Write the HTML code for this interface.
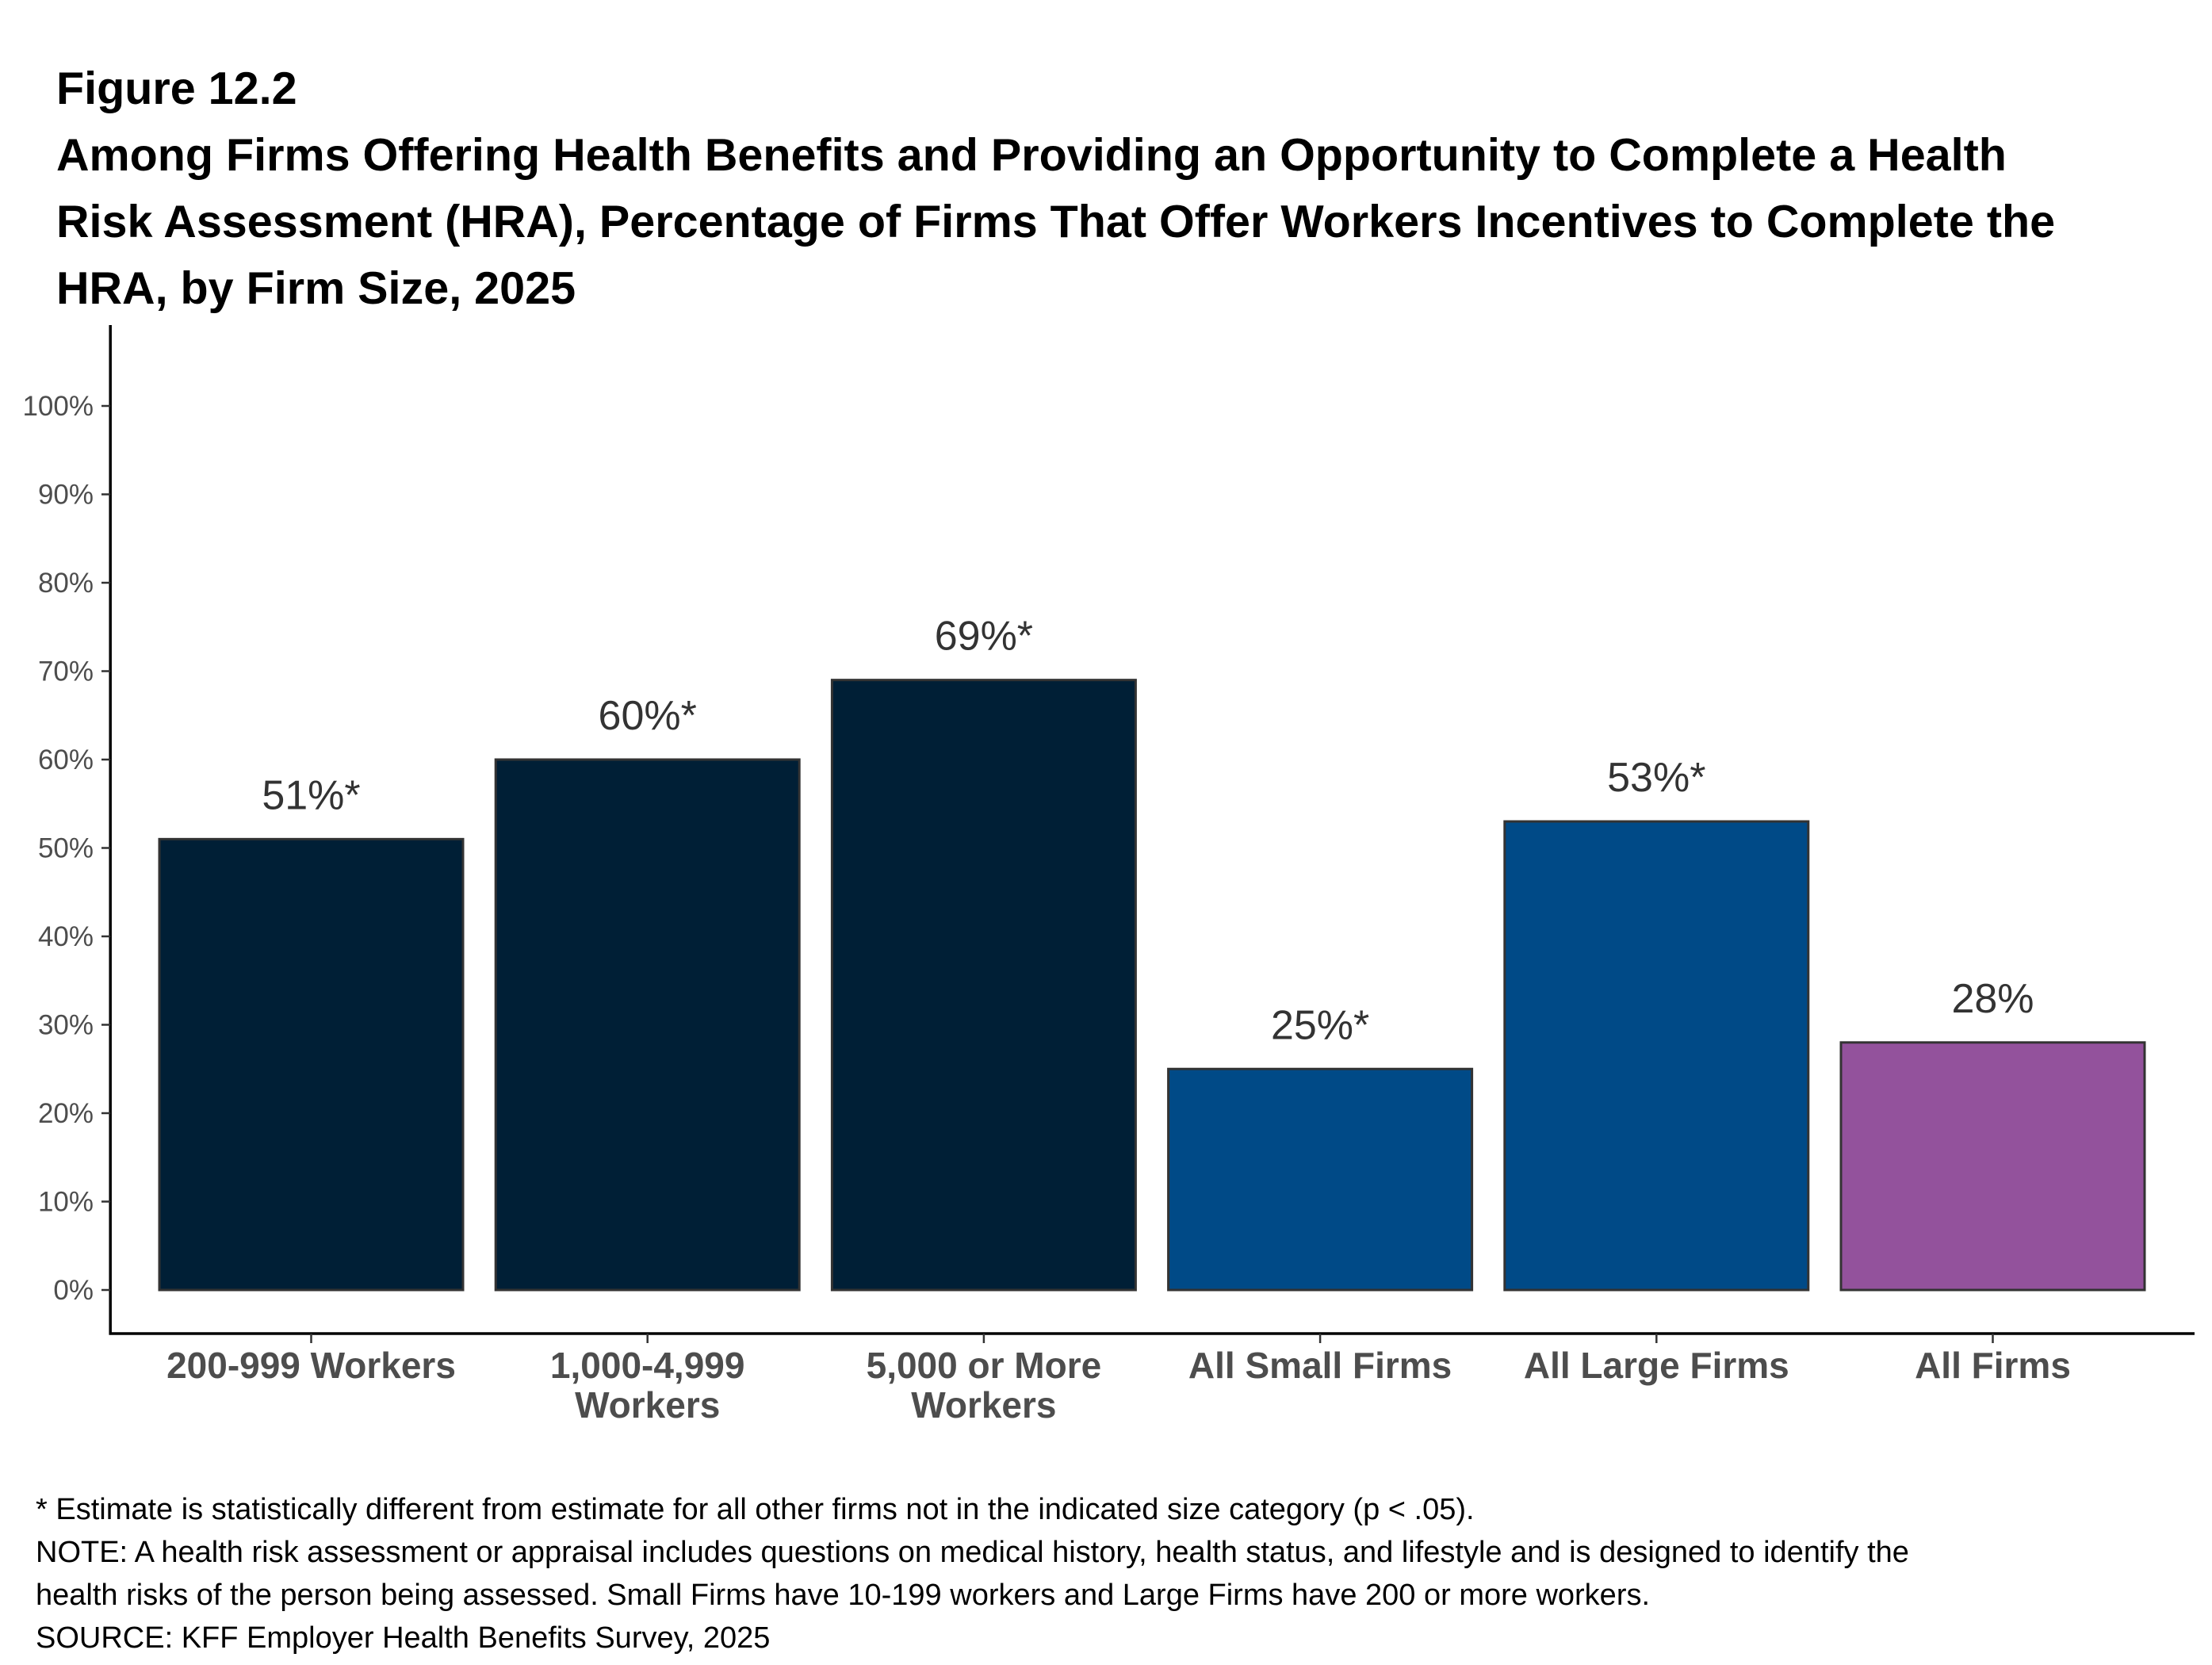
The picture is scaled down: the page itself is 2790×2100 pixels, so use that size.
<!DOCTYPE html>
<html><head><meta charset="utf-8"><style>
html,body{margin:0;padding:0;background:#fff;}
svg{display:block;font-family:"Liberation Sans",Arial,sans-serif;}
</style></head><body>
<svg id="chart" width="2790" height="2100" viewBox="0 0 2790 2100">
<g font-weight="bold" font-size="57.5" fill="#000">
<text x="71" y="131">Figure 12.2</text>
<text x="71" y="215">Among Firms Offering Health Benefits and Providing an Opportunity to Complete a Health</text>
<text x="71" y="299">Risk Assessment (HRA), Percentage of Firms That Offer Workers Incentives to Complete the</text>
<text x="71" y="383">HRA, by Firm Size, 2025</text>
</g>
<g id="plot"></g>
<g font-size="38" fill="#000">
<text x="45" y="1916">* Estimate is statistically different from estimate for all other firms not in the indicated size category (p &lt; .05).</text>
<text x="45" y="1970">NOTE: A health risk assessment or appraisal includes questions on medical history, health status, and lifestyle and is designed to identify the</text>
<text x="45" y="2024">health risks of the person being assessed. Small Firms have 10-199 workers and Large Firms have 200 or more workers.</text>
<text x="45" y="2078">SOURCE: KFF Employer Health Benefits Survey, 2025</text>
</g>
</svg>
<script>
const categories = [["200-999 Workers"],["1,000-4,999","Workers"],["5,000 or More","Workers"],["All Small Firms"],["All Large Firms"],["All Firms"]];
const values = [51,60,69,25,53,28];
const valueLabels = ["51%*","60%*","69%*","25%*","53%*","28%"];
const barColors = ["#001f36","#001f36","#001f36","#004a87","#004a87","#93529c"];
const yTicks = [0,10,20,30,40,50,60,70,80,90,100];

const NS="http://www.w3.org/2000/svg";
const g=document.getElementById('plot');
const y0=1627, pxPer=11.15;
const yScale=v=>y0-v*pxPer;
const xScale=i=>392.5+i*424.2;
const bw=383;
const axisY=1682;
function mk(t,a,txt){const e=document.createElementNS(NS,t);for(const k in a)e.setAttribute(k,a[k]);if(txt!==undefined)e.textContent=txt;g.appendChild(e);return e;}
let e=mk('line',{x1:139.2,y1:410,x2:139.2,y2:axisY+1.5,stroke:'#000','stroke-width':3.5});


e=mk('line',{x1:137.5,y1:axisY,x2:2768,y2:axisY,stroke:'#000','stroke-width':3.5});


yTicks.forEach(t=>{
  const y=yScale(t);
  let l=mk('line',{x1:128,y1:y,x2:139.2,y2:y,stroke:'#333','stroke-width':2.5});
  
  
  let tx=mk('text',{x:118,y:y+12,'text-anchor':'end','font-size':35,fill:'#4d4d4d'},t+'%');
  
  
});
values.forEach((v,i)=>{
  const cx=xScale(i);
  let r=mk('rect',{x:cx-bw/2,y:yScale(v),width:bw,height:yScale(0)-yScale(v),fill:barColors[i],stroke:'#333','stroke-width':3});
  
  
  let t=mk('text',{x:cx,y:yScale(v)-38,'text-anchor':'middle','font-size':52,fill:'#333'},valueLabels[i]);
  
  
  let tk=mk('line',{x1:cx,y1:axisY,x2:cx,y2:axisY+12,stroke:'#333','stroke-width':2.5});
  
  
  categories[i].forEach((line,j)=>{
    let c=mk('text',{x:cx,y:axisY+56+j*50,'text-anchor':'middle','font-size':46,'font-weight':'bold',fill:'#4d4d4d'},line);
    
    
  });
});
</script>
</body></html>
